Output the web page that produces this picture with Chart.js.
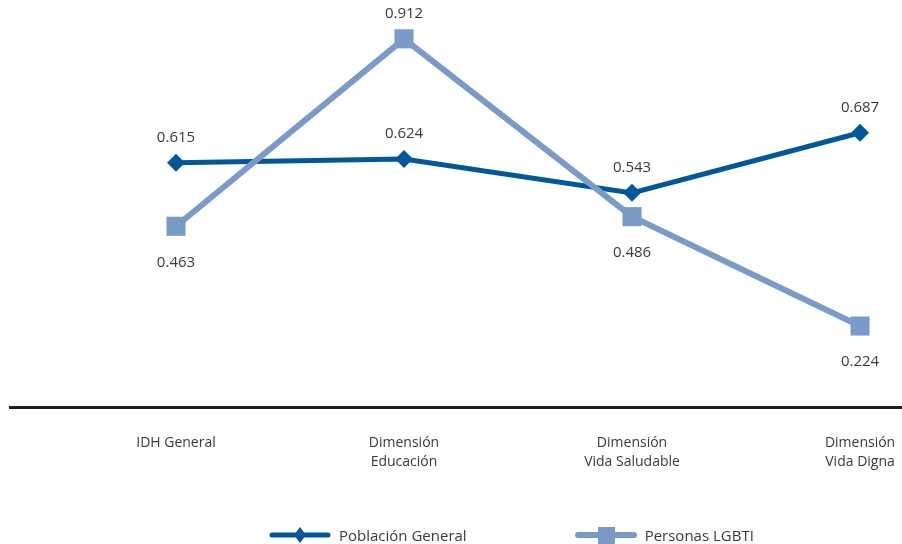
<!DOCTYPE html>
<html>
<head>
<meta charset="utf-8">
<script src="https://cdn.jsdelivr.net/npm/chart.js@4/dist/chart.umd.min.js"></script>
<style>
  html, body { margin: 0; padding: 0; background: #fff; overflow: hidden; }
  body { position: relative; width: 902px; height: 544px; }
  #wrap { width: 1016px; height: 544px; }
  #legend {
    position: absolute; left: 269px; top: 524px;
    display: flex; gap: 108px;
    font: 15px "Open Sans", sans-serif; color: #3a3a3a;
  }
  #legend .item { display: flex; align-items: center; gap: 8px; }
  #legend canvas { display: block; }
</style>
</head>
<body>
<div id="wrap"><canvas id="chart"></canvas></div>
<div id="legend"></div>
<script>
// categories and values
const categories = [['IDH General'], ['Dimensión', 'Educación'], ['Dimensión', 'Vida Saludable'], ['Dimensión', 'Vida Digna']];
const poblacionGeneral = [0.615, 0.624, 0.543, 0.687];
const personasLGBTI = [0.463, 0.912, 0.486, 0.224];
// where each value label sits relative to its point
const posGeneral = ['top', 'top', 'top', 'top'];
const posLGBTI = ['bottom', 'top', 'bottom', 'bottom'];

const DARK = '#00589c';
const LIGHT = '#7a9bc8';
const FONT = '"Open Sans", sans-serif';

// legend swatch: line with the marker in the middle
function swatch(color, lineW, shape) {
  const c = document.createElement('canvas');
  c.width = 62; c.height = 22;
  const g = c.getContext('2d');
  g.strokeStyle = color;
  g.lineWidth = lineW;
  g.lineCap = 'round';
  g.beginPath();
  g.moveTo(3, 11); g.lineTo(59, 11);
  g.stroke();
  g.fillStyle = color;
  g.beginPath();
  if (shape === 'diamond') {
    g.moveTo(31, 3); g.lineTo(37, 11); g.lineTo(31, 19); g.lineTo(25, 11);
  } else {
    g.rect(23, 3, 17, 17);
  }
  g.fill();
  return c;
}

// draws the value next to every point
const valueLabels = {
  id: 'valueLabels',
  afterDatasetsDraw(chart) {
    const ctx = chart.ctx;
    ctx.save();
    ctx.font = '15px ' + FONT;
    ctx.fillStyle = '#3a3a3a';
    ctx.textAlign = 'center';
    ctx.textBaseline = 'middle';
    chart.data.datasets.forEach((ds, i) => {
      const meta = chart.getDatasetMeta(i);
      meta.data.forEach((pt, j) => {
        const above = ds.labelPos[j] === 'top';
        const y = above ? pt.y - 25 : pt.y + 36;
        ctx.fillText(ds.data[j].y.toFixed(3), pt.x, y);
      });
    });
    ctx.restore();
  }
};

const toPoints = (vals) => vals.map((v, i) => ({ x: i, y: v }));

const chart = new Chart(document.getElementById('chart'), {
  type: 'line',
  data: {
    datasets: [
      {
        label: 'Población General',
        data: toPoints(poblacionGeneral),
        labelPos: posGeneral,
        borderColor: DARK,
        backgroundColor: DARK,
        borderWidth: 5,
        pointStyle: 'rectRot',
        pointRadius: 9,
        pointHoverRadius: 9,
        pointBorderWidth: 0,
        legendShape: 'diamond',
        legendLine: 5,
        order: 2,
        clip: false
      },
      {
        label: 'Personas LGBTI',
        data: toPoints(personasLGBTI),
        labelPos: posLGBTI,
        borderColor: LIGHT,
        backgroundColor: LIGHT,
        borderWidth: 6,
        pointStyle: 'rect',
        pointRadius: 13.5,
        pointHoverRadius: 13.5,
        pointBorderWidth: 0,
        legendShape: 'square',
        legendLine: 6,
        order: 1,
        clip: false
      }
    ]
  },
  options: {
    responsive: true,
    maintainAspectRatio: false,
    animation: false,
    layout: { autoPadding: false, padding: { left: 10, right: 0, top: 0, bottom: 0 } },
    scales: {
      x: {
        type: 'linear',
        min: -0.728,
        max: 3.684,
        afterBuildTicks: (scale) => { scale.ticks = categories.map((_, i) => ({ value: i })); },
        afterFit: (scale) => { scale.height = 137; },
        grid: { display: false, drawTicks: false },
        border: { display: true, color: '#1e1e1e', width: 3 },
        ticks: {
          autoSkip: false,
          maxRotation: 0,
          padding: 27,
          color: '#3a3a3a',
          font: { family: FONT, size: 14, lineHeight: 1.35 },
          callback: (v) => categories[v]
        }
      },
      y: {
        display: false,
        min: 0.03,
        max: 1.005
      }
    },
    plugins: {
      legend: { display: false },
      tooltip: { enabled: false }
    }
  },
  plugins: [valueLabels]
});

// html legend
const legendEl = document.getElementById('legend');
chart.data.datasets.forEach((ds) => {
  const item = document.createElement('div');
  item.className = 'item';
  item.appendChild(swatch(ds.borderColor, ds.legendLine, ds.legendShape));
  const span = document.createElement('span');
  span.textContent = ds.label;
  item.appendChild(span);
  legendEl.appendChild(item);
});
</script>
</body>
</html>
